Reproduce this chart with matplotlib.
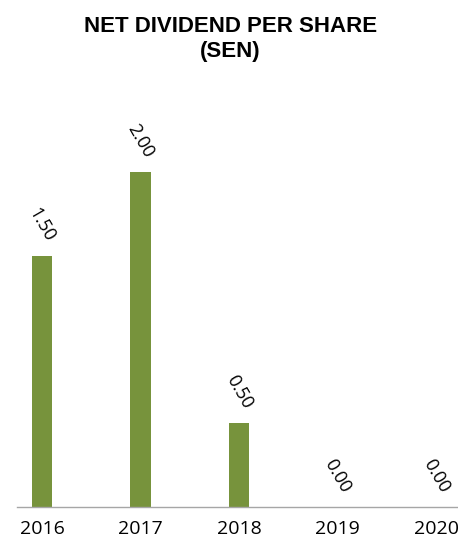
import matplotlib.pyplot as plt

years = ["2016", "2017", "2018", "2019", "2020"]
dividend_sen = [1.50, 2.00, 0.50, 0.00, 0.00]

bar_color = "#77933C"

fig = plt.figure(figsize=(4.58, 5.44), dpi=100)
ax = fig.add_axes([17 / 458, 37 / 544, 441 / 458, 402 / 544])

x = range(len(years))
ax.bar(x, dividend_sen, width=0.205, color=bar_color, zorder=2)

# value labels, tilted like the original report chart
for xi, v in zip(x, dividend_sen):
    ax.annotate(f"{v:.2f}", (xi, v), xytext=(0, 22.5), textcoords="offset points",
                ha="center", va="center", rotation=-60, rotation_mode="anchor",
                fontsize=13, family="Open Sans", color="black")

ax.set_xlim(-0.254, 4.223)
ax.set_ylim(0, 2.4)
ax.set_xticks(list(x))
ax.set_xticklabels(years, family="Open Sans", fontsize=14)
ax.tick_params(axis="x", length=0, pad=9)
ax.set_yticks([])
for side in ("top", "right", "left"):
    ax.spines[side].set_visible(False)
ax.spines["bottom"].set_color("#A6A6A6")
ax.spines["bottom"].set_linewidth(1.0)

fig.text(0.5026, 1 - 39 / 544, "NET DIVIDEND PER SHARE\n(SEN)", ha="center", va="center",
         fontsize=16, fontweight="bold", family="Liberation Sans", linespacing=1.2)

fig.savefig("out.png", dpi=100)
